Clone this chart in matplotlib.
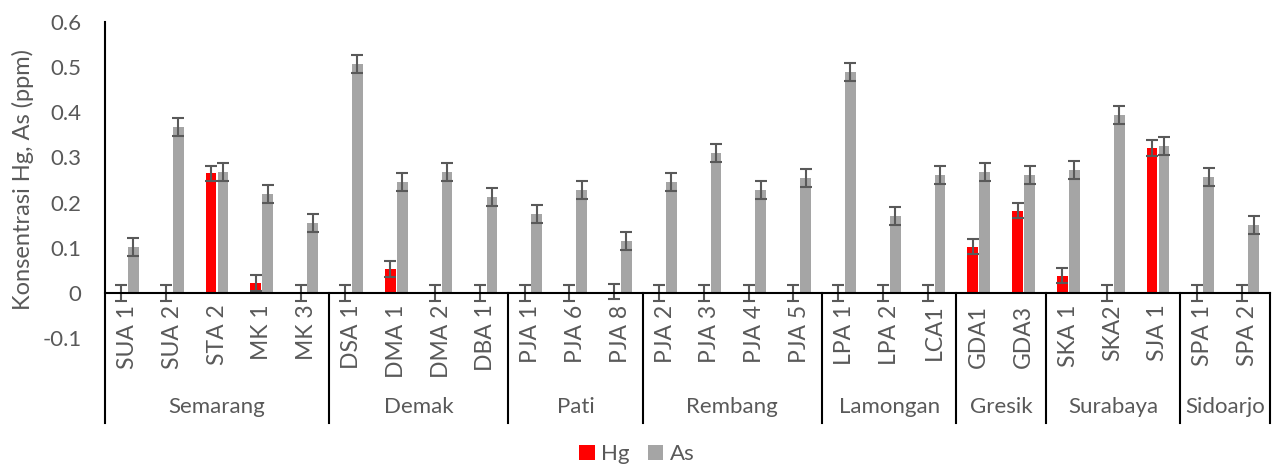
import matplotlib
matplotlib.use("Agg")
import matplotlib.pyplot as plt
import numpy as np

plt.rcParams['font.family'] = ['Lato', 'DejaVu Sans']

# sample codes and their regions
samples = ["SUA 1", "SUA 2", "STA 2", "MK 1", "MK 3",
           "DSA 1", "DMA 1", "DMA 2", "DBA 1",
           "PJA 1", "PJA 6", "PJA 8",
           "PJA 2", "PJA 3", "PJA 4", "PJA 5",
           "LPA 1", "LPA 2", "LCA1",
           "GDA1", "GDA3",
           "SKA 1", "SKA2", "SJA 1",
           "SPA 1", "SPA 2"]
regions = ["Semarang", "Demak", "Pati", "Rembang", "Lamongan", "Gresik", "Surabaya", "Sidoarjo"]
region_sizes = [5, 4, 3, 4, 3, 2, 3, 2]

hg = [0, 0, 0.265, 0.022, 0,
      0, 0.053, 0, 0,
      0, 0, 0.003,
      0, 0, 0, 0,
      0, 0, 0,
      0.102, 0.182,
      0.038, 0, 0.321,
      0, 0]
hg_err = [0.017] * len(samples)

as_ = [0.102, 0.367, 0.268, 0.219, 0.155,
       0.507, 0.246, 0.268, 0.212,
       0.175, 0.228, 0.115,
       0.246, 0.310, 0.228, 0.254,
       0.489, 0.170, 0.261,
       0.268, 0.261,
       0.272, 0.393, 0.325,
       0.256, 0.150]
as_err = [0.02] * len(samples)

txt = "#595959"
x = np.arange(len(samples))
w = 0.24
off = 0.135

fig = plt.figure(figsize=(12.74, 4.70), dpi=100)
ax = fig.add_axes([105 / 1274, 132 / 470, 1165 / 1274, 316 / 470])

ekw = dict(ecolor="#595959", elinewidth=1.5, capsize=4.5, capthick=1.5)
ax.bar(x - off, hg, w, color="#FF0000", label="Hg", yerr=hg_err, error_kw=ekw, zorder=2)
ax.bar(x + off, as_, w, color="#A5A5A5", label="As", yerr=as_err, error_kw=ekw, zorder=2)

ax.set_xlim(-0.5, len(samples) - 0.5)
ax.set_ylim(-0.1, 0.6)
ax.set_yticks([-0.1, 0, 0.1, 0.2, 0.3, 0.4, 0.5, 0.6])
ax.set_yticklabels(["-0.1", "0", "0.1", "0.2", "0.3", "0.4", "0.5", "0.6"])
ax.tick_params(axis="y", length=0, pad=17, labelsize=16, labelcolor=txt)
ax.set_xticks([])
for s in ax.spines.values():
    s.set_visible(False)
ax.set_ylabel("Konsentrasi Hg, As (ppm)", fontsize=17, color=txt, labelpad=6)

# category axis at zero
bottom = -0.288
ax.plot([-0.5, len(samples) - 0.5], [0, 0], color="black", lw=1.5, clip_on=False, zorder=3)
ax.plot([-0.5, -0.5], [0.6, bottom], color="black", lw=1.5, clip_on=False, zorder=3)

for i, s in enumerate(samples):
    ax.text(i, -0.026, s, rotation=90, ha="center", va="top", fontsize=16.5, color=txt)

start = 0
for name, n in zip(regions, region_sizes):
    end = start + n
    ax.plot([end - 0.5, end - 0.5], [0, bottom], color="black", lw=1.5, clip_on=False)
    ax.text((start + end - 1) / 2, -0.253, name, ha="center", va="center", fontsize=16, color=txt)
    start = end

fig.legend(loc="lower center", bbox_to_anchor=(0.5, -0.03), ncol=2, frameon=False,
           fontsize=16, labelcolor=txt, handlelength=0.7, handleheight=0.7,
           handletextpad=0.3, columnspacing=0.8)

fig.savefig("out.png", dpi=100)
